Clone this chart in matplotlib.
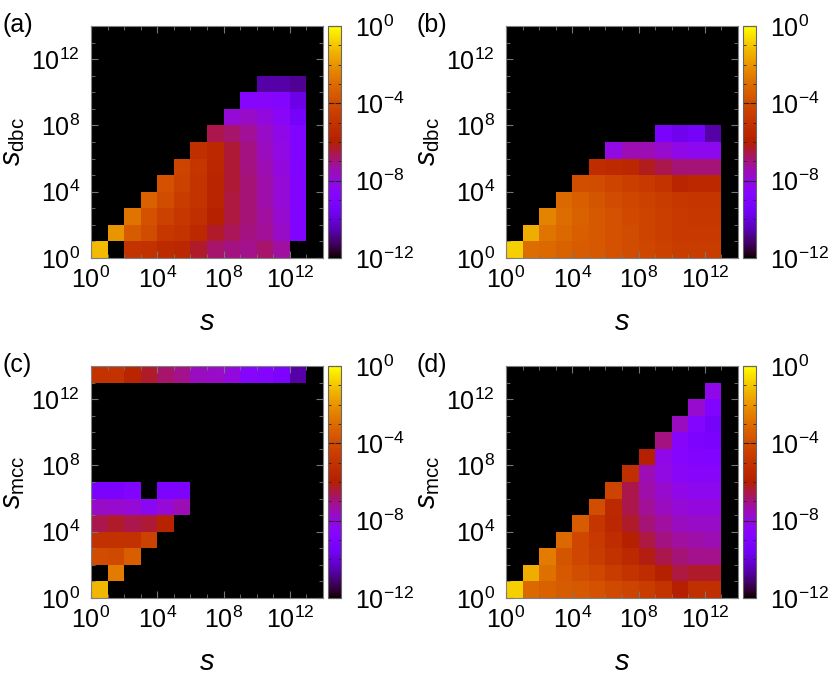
import numpy as np
import matplotlib
matplotlib.use("Agg")
import matplotlib.pyplot as plt
from matplotlib.colors import LogNorm
from matplotlib.ticker import FixedLocator, FuncFormatter, NullFormatter

plt.rcParams['font.family'] = ['Liberation Sans', 'DejaVu Sans']
plt.rcParams['mathtext.fontset'] = 'custom'
plt.rcParams['mathtext.rm'] = 'Liberation Sans'
plt.rcParams['mathtext.it'] = 'Liberation Sans:italic'
plt.rcParams['mathtext.default'] = 'regular'

N = np.nan

# log10 of probability in each (s, s_x) bin, one decade per bin
# rows go from the lowest bin (10^0) upwards, columns are the s bins
panel_a = [
    [-1.2, N, -5.0, -5.1, -5.4, -5.6, -6.3, -6.8, -7.0, -7.1, -6.8, -7.3, N, N],
    [N, -2.0, -3.5, -4.0, -4.8, -5.0, -5.5, -6.3, -6.7, -7.0, -7.2, -7.7, -9.0, N],
    [N, N, -2.8, -3.8, -4.4, -4.8, -5.2, -5.9, -6.5, -6.9, -7.3, -7.8, -9.0, N],
    [N, N, N, -3.3, -4.0, -4.6, -5.0, -5.7, -6.5, -6.9, -7.4, -7.9, -9.0, N],
    [N, N, N, N, -3.8, -4.4, -5.0, -5.7, -6.4, -6.9, -7.4, -7.9, -9.0, N],
    [N, N, N, N, N, -4.3, -4.9, -5.6, -6.4, -7.0, -7.5, -8.0, -9.0, N],
    [N, N, N, N, N, N, -5.2, -5.5, -6.4, -7.0, -7.6, -8.1, -9.0, N],
    [N, N, N, N, N, N, N, -6.6, -6.8, -7.2, -7.7, -8.2, -9.0, N],
    [N, N, N, N, N, N, N, N, -7.9, -7.7, -8.0, -8.5, -9.4, N],
    [N, N, N, N, N, N, N, N, N, -8.7, -8.6, -8.8, -9.8, N],
    [N, N, N, N, N, N, N, N, N, N, -10.6, -10.6, -10.8, N],
    [N] * 14,
    [N] * 14,
    [N] * 14,
]

panel_b = [
    [-0.8, -3.0, -3.1, -3.3, -3.5, -3.6, -3.8, -4.0, -4.2, -4.4, -4.6, -4.6, -4.6, N],
    [N, -1.5, -2.8, -3.1, -3.4, -3.6, -3.8, -4.0, -4.3, -4.5, -4.7, -4.7, -4.7, N],
    [N, N, -2.4, -3.0, -3.3, -3.6, -3.8, -4.1, -4.3, -4.5, -4.7, -4.8, -4.8, N],
    [N, N, N, -3.1, -3.4, -3.7, -4.0, -4.2, -4.4, -4.6, -4.8, -4.9, -4.9, N],
    [N, N, N, N, -3.9, -4.0, -4.3, -4.5, -4.7, -5.0, -5.7, -5.5, -5.5, N],
    [N, N, N, N, N, -5.3, -5.4, -5.6, -6.2, -6.6, -6.9, -6.9, -6.9, N],
    [N, N, N, N, N, N, -8.1, -7.5, -7.5, -7.8, -8.2, -8.3, -8.3, N],
    [N, N, N, N, N, N, N, N, N, -9.3, -9.7, -9.4, -10.6, N],
    [N] * 14,
    [N] * 14,
    [N] * 14,
    [N] * 14,
    [N] * 14,
    [N] * 14,
]

panel_c = [
    [-1.3, N, N, N, N, N, N, N, N, N, N, N, N, N],
    [N, -2.6, N, N, N, N, N, N, N, N, N, N, N, N],
    [-4.0, -4.1, -3.4, N, N, N, N, N, N, N, N, N, N, N],
    [-5.1, -5.1, -5.1, -4.4, N, N, N, N, N, N, N, N, N, N],
    [-6.6, -6.3, -6.6, -6.4, -5.8, N, N, N, N, N, N, N, N, N],
    [-7.7, -7.8, -7.9, -8.4, -7.9, -7.5, N, N, N, N, N, N, N, N],
    [-9.2, -9.2, -9.0, N, -9.1, -9.1, N, N, N, N, N, N, N, N],
    [N] * 14,
    [N] * 14,
    [N] * 14,
    [N] * 14,
    [N] * 14,
    [N] * 14,
    [-5.0, -5.0, -5.7, -6.3, -6.8, -7.1, -7.6, -7.7, -8.0, -8.7, -8.8, -9.1, -10.6, N],
]

panel_d = [
    [-0.8, -3.1, -3.3, -3.5, -3.6, -3.8, -4.1, -4.3, -4.6, -5.0, -6.0, -5.2, -5.2, N],
    [N, -1.5, -2.9, -3.6, -3.9, -4.2, -4.6, -5.0, -5.3, -6.0, -6.5, -6.3, -6.3, N],
    [N, N, -2.6, -3.7, -4.2, -4.6, -5.1, -5.5, -6.1, -6.6, -6.9, -7.1, -7.1, N],
    [N, N, N, -3.1, -4.2, -4.7, -5.3, -6.0, -6.5, -7.0, -7.3, -7.4, -7.5, N],
    [N, N, N, N, -3.5, -4.9, -5.6, -6.3, -6.9, -7.3, -7.6, -7.7, -7.7, N],
    [N, N, N, N, N, -3.9, -5.5, -6.6, -7.2, -7.6, -7.9, -8.0, -8.0, N],
    [N, N, N, N, N, N, -4.3, -6.6, -7.4, -7.8, -8.2, -8.3, -8.3, N],
    [N, N, N, N, N, N, N, -5.2, -7.5, -8.1, -8.5, -8.6, -8.6, N],
    [N, N, N, N, N, N, N, N, -6.0, -8.2, -8.7, -8.9, -9.0, N],
    [N, N, N, N, N, N, N, N, N, -7.0, -8.6, -9.1, -9.2, N],
    [N, N, N, N, N, N, N, N, N, N, -7.6, -8.8, -9.4, N],
    [N, N, N, N, N, N, N, N, N, N, N, -7.8, -9.0, N],
    [N, N, N, N, N, N, N, N, N, N, N, N, -8.2, N],
    [N] * 14,
]

panel_labels = ['(a)', '(b)', '(c)', '(d)']
y_labels = [r'$\mathit{s}_{\mathrm{dbc}}$', r'$\mathit{s}_{\mathrm{dbc}}$',
            r'$\mathit{s}_{\mathrm{mcc}}$', r'$\mathit{s}_{\mathrm{mcc}}$']
x_label = r'$\mathit{s}$'
bin_edges = 10.0 ** np.arange(15)
major_ticks = [1e0, 1e4, 1e8, 1e12]
cbar_ticks = [1e-12, 1e-8, 1e-4, 1e0]

W, H = 830, 677
fig = plt.figure(figsize=(W / 100, H / 100), dpi=100)


def pow_fmt(v, pos):
    return r'$10^{%d}$' % int(round(np.log10(v)))


# top-left pixel corner of each heat map
corners = [(91, 26), (506, 26), (91, 366), (506, 366)]
size = 232

for data, lab, ylab, (px, py) in zip([panel_a, panel_b, panel_c, panel_d],
                                     panel_labels, y_labels, corners):
    ax = fig.add_axes([px / W, 1 - (py + size) / H, size / W, size / H])
    ax.set_facecolor('black')
    vals = np.ma.masked_invalid(10.0 ** np.array(data))
    mesh = ax.pcolormesh(bin_edges, bin_edges, vals, cmap='gnuplot',
                         norm=LogNorm(1e-12, 1), shading='flat')
    ax.set_xscale('log')
    ax.set_yscale('log')
    ax.set_xlim(1, 1e14)
    ax.set_ylim(1, 1e14)
    for a in (ax.xaxis, ax.yaxis):
        a.set_major_locator(FixedLocator(major_ticks))
        a.set_minor_locator(FixedLocator(bin_edges))
        a.set_major_formatter(FuncFormatter(pow_fmt))
        a.set_minor_formatter(NullFormatter())
    ax.tick_params(which='both', direction='in', top=True, right=True,
                   color='#777777', labelsize=18)
    ax.tick_params(which='major', length=5)
    ax.tick_params(which='minor', length=3)
    ax.tick_params(axis='x', pad=6)
    ax.tick_params(axis='y', pad=8)
    for sp in ax.spines.values():
        sp.set_edgecolor('#808080')
        sp.set_linewidth(0.8)

    cax = fig.add_axes([(px + size + 5) / W, 1 - (py + size) / H, 13 / W, size / H])
    cb = fig.colorbar(mesh, cax=cax)
    cb.set_ticks(cbar_ticks)
    cax.yaxis.set_major_formatter(FuncFormatter(pow_fmt))
    cax.yaxis.set_minor_locator(FixedLocator(10.0 ** np.arange(-11, 0)))
    cax.yaxis.set_minor_formatter(NullFormatter())
    cax.tick_params(which='both', direction='in', left=True, right=True,
                    color='#222222', labelsize=18, pad=10)
    cax.tick_params(which='major', length=4.5)
    cax.tick_params(which='minor', length=2.5)
    cb.outline.set_edgecolor('#666666')
    cb.outline.set_linewidth(0.8)

    fig.text((px - 89) / W, 1 - (py - 1) / H, lab, fontsize=18, va='center', ha='left')
    fig.text((px - 78) / W, 1 - (py + size / 2) / H, ylab, fontsize=21,
             rotation=90, va='center', ha='center')
    fig.text((px + size / 2) / W, 1 - (py + 296) / H, x_label, fontsize=21,
             va='center', ha='center')

fig.savefig('out.png', dpi=100)
